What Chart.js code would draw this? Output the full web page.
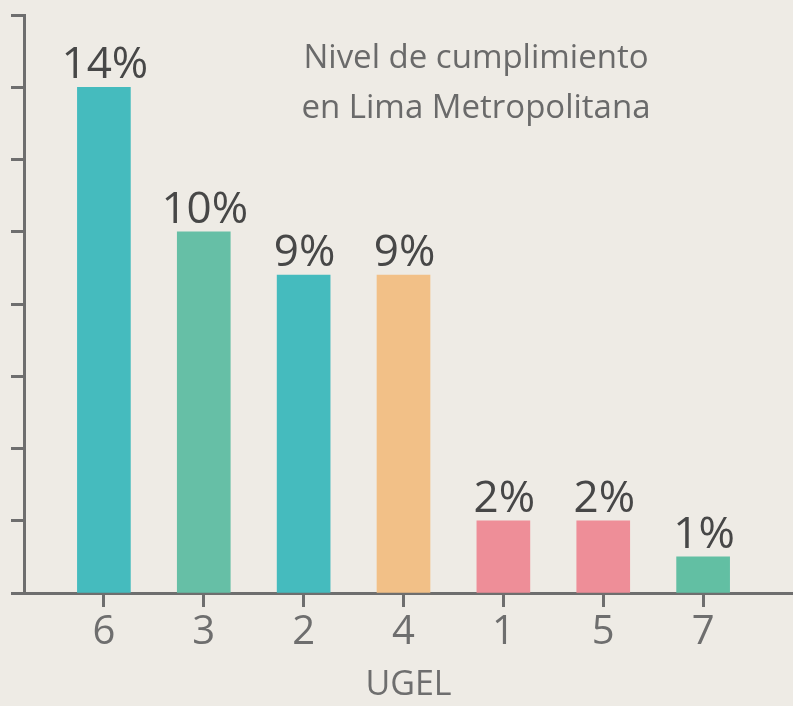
<!DOCTYPE html>
<html><head><meta charset="utf-8">
<script src="https://cdn.jsdelivr.net/npm/chart.js@4"></script>
<style>html,body{margin:0;padding:0;background:#EEEBE5;}#wrap{width:793px;height:706px;}</style>
</head><body><div id="wrap"><canvas id="c" width="793" height="706"></canvas></div>
<script>
const categories = ["6", "3", "2", "4", "1", "5", "7"];
const values = [14, 10, 8.8, 8.8, 2, 2, 1];
const valueLabels = ["14%", "10%", "9%", "9%", "2%", "2%", "1%"];
const barColors = ["#45BBBE", "#66BFA6", "#45BBBE", "#F2C087", "#EE8E98", "#EE8E98", "#62BFA3"];
const yTicks = [0, 2, 4, 6, 8, 10, 12, 14, 16];
const titleLines = ["Nivel de cumplimiento", "en Lima Metropolitana"];
const xTitle = "UGEL";

const FONT = "'Open Sans', 'Noto Sans', sans-serif";
const axisGray = "#6E6E6E";

const labelPlugin = {
  id: 'labels',
  afterDatasetsDraw(chart) {
    const ctx = chart.ctx;
    const meta = chart.getDatasetMeta(0);
    ctx.save();
    ctx.fillStyle = "#474747";
    ctx.font = "44px " + FONT;
    ctx.textAlign = "center";
    ctx.textBaseline = "alphabetic";
    meta.data.forEach((bar, i) => {
      ctx.fillText(valueLabels[i], bar.x + 1, bar.y - 9);
    });
    ctx.fillStyle = "#6A6A6A";
    ctx.font = "33px " + FONT;
    ctx.fillText(titleLines[0], 476, 68);
    ctx.fillText(titleLines[1], 476, 118);
    ctx.restore();
  }
};

const data = categories.map((c, i) => ({ x: i + 1, y: values[i] }));

new Chart(document.getElementById('c'), {
  type: 'bar',
  data: {
    datasets: [{
      data: data,
      backgroundColor: barColors,
      barThickness: 53,
      borderWidth: 0
    }]
  },
  options: {
    responsive: false,
    animation: false,
    layout: { padding: { top: 15, right: 0, left: 0, bottom: 0 } },
    plugins: { legend: { display: false }, tooltip: { enabled: false } },
    scales: {
      x: {
        type: 'linear',
        min: 0.2,
        max: 7.9,
        offset: false,
        afterBuildTicks: s => { s.ticks = categories.map((c, i) => ({ value: i + 1 })); },
        afterFit: s => { s.height = 113; },
        grid: { display: true, offset: false, drawOnChartArea: false, drawTicks: true, tickLength: 14, tickWidth: 3, tickColor: axisGray },
        border: { display: true, width: 3, color: axisGray },
        ticks: {
          callback: v => categories[v - 1] ?? '',
          color: "#6E6E6E",
          font: { size: 40, family: FONT },
          padding: 2,
          maxRotation: 0,
          autoSkip: false
        },
        title: { display: true, text: xTitle, color: "#6E6E6E", font: { size: 34, family: FONT }, padding: { top: 7, bottom: 0 } }
      },
      y: {
        min: 0,
        max: 16,
        afterBuildTicks: s => { s.ticks = yTicks.map(v => ({ value: v })); },
        afterFit: s => { s.width = 24; },
        grid: { display: true, drawOnChartArea: false, drawTicks: true, tickLength: 13, tickWidth: 3, tickColor: axisGray },
        border: { display: true, width: 3, color: axisGray },
        ticks: { display: false }
      }
    }
  },
  plugins: [labelPlugin]
});
</script>
</body></html>
